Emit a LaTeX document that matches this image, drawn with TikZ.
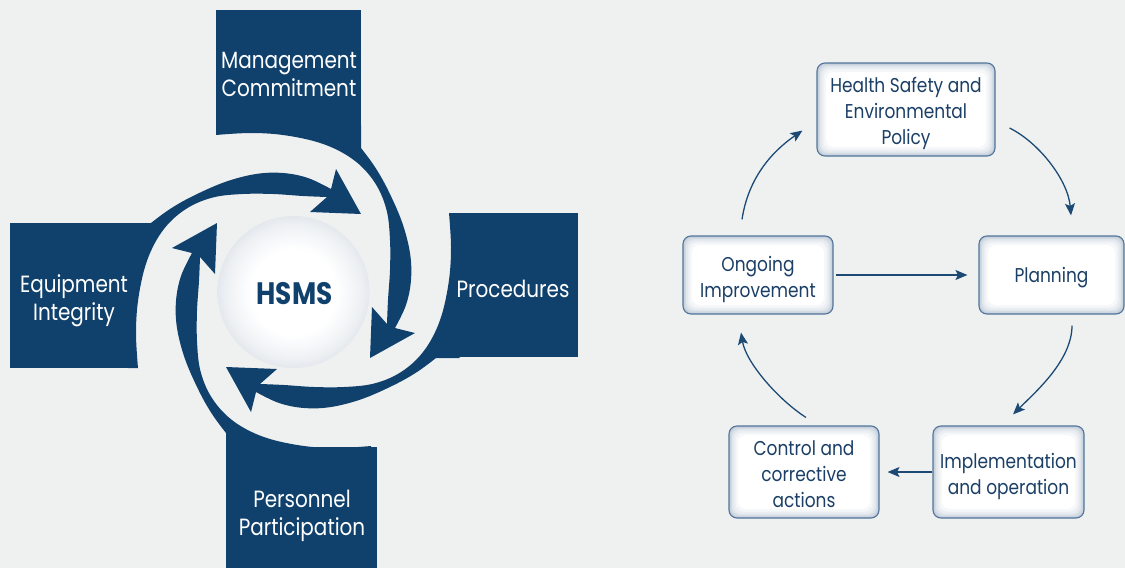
\documentclass[tikz,border=0pt]{standalone}
\usepackage{fontspec}
\setmainfont{Poppins}
\newfontfamily\pop[FakeStretch=0.85]{Poppins}
\usetikzlibrary{arrows.meta,calc}
\definecolor{bg}{HTML}{EFF1F1}
\definecolor{navy}{HTML}{10416C}
\definecolor{txtblue}{HTML}{1B3F66}
\definecolor{arrowblue}{HTML}{1D4A74}
\definecolor{boxline}{HTML}{52749A}
\definecolor{gA}{HTML}{C3CEDA}
\definecolor{gB}{HTML}{D2DBE4}
\definecolor{gC}{HTML}{E0E6EC}
\definecolor{gD}{HTML}{EBEFF3}
\definecolor{gE}{HTML}{F5F7F9}
\definecolor{ballA}{HTML}{EEF1F4}
\definecolor{ballB}{HTML}{D6DDE5}
\definecolor{ballC}{HTML}{C0CBD6}
\definecolor{balledge}{HTML}{AEBCCA}
\pgfdeclareradialshading{hsmsball}{\pgfpoint{0bp}{0bp}}{color(0bp)=(white); color(14bp)=(white); color(22bp)=(ballA); color(29bp)=(ballB); color(33bp)=(ballC); color(35.4bp)=(balledge); color(50bp)=(balledge)}
\tikzset{
  armlabel/.style={text=white, align=center, inner sep=0pt, font=\pop\fontsize{23.5}{28}\selectfont},
  glowbox/.style={draw=boxline, line width=1.1pt, rounded corners=8pt, inner sep=0pt,
    path picture={
      \foreach \d/\c in {0/gA,1.5/gB,3/gC,4.5/gD,6.5/gE,9/white}{
        \fill[\c, rounded corners=8pt] ([shift={(\d pt,-\d pt)}]path picture bounding box.north west)
          rectangle ([shift={(-\d pt,\d pt)}]path picture bounding box.south east);
      }
    }},
  boxtext/.style={align=center, inner sep=0pt, text=txtblue, font=\pop\fontsize{20}{26}\selectfont},
  flow/.style={draw=arrowblue, line width=1.3pt, -{Stealth[length=12pt,width=10pt,inset=2.5pt]}}
}
\begin{document}
\begin{tikzpicture}[x=1pt,y=-1pt]
\fill[bg] (0,0) rectangle (1125,568);
\useasboundingbox (0,0) rectangle (1125,568);

% rectangles of the cross
\fill[navy] (216,10) rectangle (361,132);
\fill[navy] (452,213) rectangle (578,357);
\fill[navy] (10,223) rectangle (135,368);
\fill[navy] (226,447) rectangle (377,568);

% four swirling arms
\foreach \ang in {0,90,180,270}{
  \begin{scope}[shift={(293.5,290.5)}, rotate=\ang]
    \fill[navy] plot[smooth, tension=0.6] coordinates {(-77.5,-155.5) (-43.5,-157.5) (-10.5,-155.5) (23.5,-148.5) (49.5,-137.5) (69.5,-122.5) (84.5,-102.5) (93.5,-78.5) (96.5,-50.5) (96.5,-20.5) (94.5,9.5) (93.5,33.5)}
      -- (78.5,16.5) -- (76.5,67.5) -- (121.5,42.5) -- (101.5,37.5)
      -- plot[smooth, tension=0.6] coordinates {(101.5,37.5) (112.5,14.5) (117.5,-10.5) (116.5,-37.5) (108.5,-68.5) (94.5,-100.5) (81.5,-123.5) (67.5,-142.5)}
      -- (67.5,-166) -- (-77.5,-166) -- cycle;
  \end{scope}
}

% central ball
\shade[shading=hsmsball] (293.5,292) circle[radius=76];
\node (hsms) at (294.5,294) {\pop\fontsize{31}{31}\selectfont\bfseries\color{navy}HSMS};

\node[armlabel] (mgmt) at (289,74) {Management\\Commitment};
\node[armlabel] (proc) at (513,288.5) {Procedures};
\node[armlabel] (equip) at (74,300.5) {Equipment\\Integrity};
\node[armlabel] (pers) at (302,515.5) {Personnel\\Participation};

% right-hand cycle
\node[glowbox, minimum width=178pt, minimum height=93pt] (policy) at (906,109.5) {};
\node[glowbox, minimum width=150pt, minimum height=78pt] (ongoing) at (758,275) {};
\node[glowbox, minimum width=145pt, minimum height=78pt] (planning) at (1051.5,275) {};
\node[glowbox, minimum width=150pt, minimum height=92pt] (control) at (804,472) {};
\node[glowbox, minimum width=151pt, minimum height=92pt] (implement) at (1008.5,472) {};

\node[boxtext] (policyT) at ($(policy)+(0,4)$) {Health Safety and\\Environmental\\Policy};
\node[boxtext] (ongoingT) at ($(ongoing)+(0,4)$) {Ongoing\\Improvement};
\node[boxtext] (planningT) at ($(planning)+(0,3)$) {Planning};
\node[boxtext] (controlT) at ($(control)+(0,2)$) {Control and\\corrective\\actions};
\node[boxtext] (implementT) at ($(implement)+(0,4)$) {Implementation\\and operation};

\draw[flow] ($(ongoing.north)+(-16,-16)$) .. controls +(6,-40) and +(-32,22) .. ($(policy.south west)+(-14,-26)$);
\draw[flow] ($(policy.east)+(14,18.5)$) .. controls +(30,15) and +(-3,-35) .. ($(planning.north)+(19.5,-20)$);
\draw[flow, shorten <=2pt, shorten >=11pt] (ongoing.east) -- (planning.west);
\draw[flow] ($(planning.south)+(20.5,11)$) .. controls +(0,35) and +(22,-22) .. ($(implement.north)+(4.5,-11)$);
\draw[flow, shorten >=8pt] (implement.west) -- (control.east);
\draw[flow] ($(control.north)+(2,-8)$) .. controls +(-28,-18) and +(5,30) .. ($(ongoing.south)+(-17,18)$);
\end{tikzpicture}
\end{document}
